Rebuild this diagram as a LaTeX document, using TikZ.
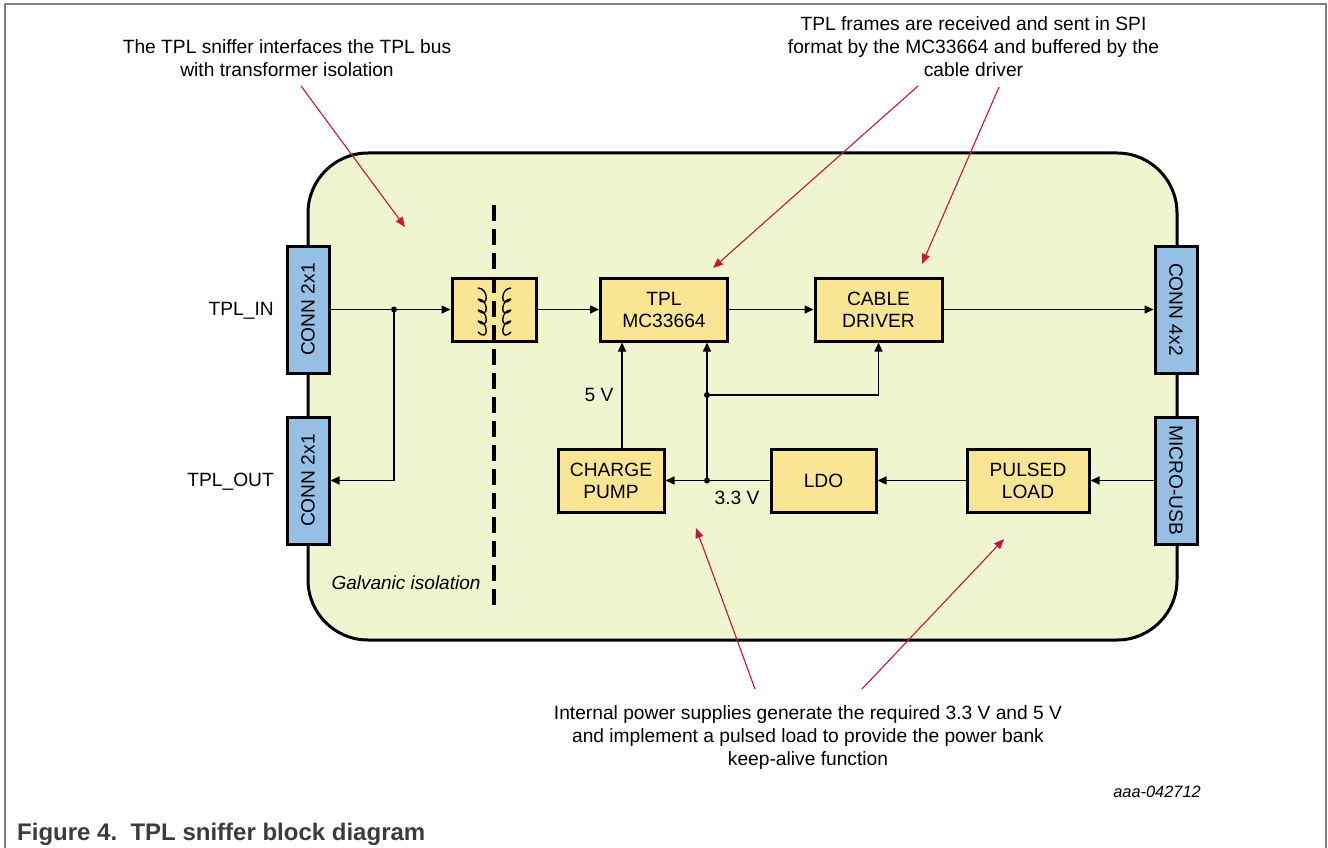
\documentclass[tikz,border=0pt]{standalone}
\usepackage{fontspec}
\setmainfont{Liberation Sans}
\usetikzlibrary{arrows.meta}
\definecolor{panel}{HTML}{EEF5CF}
\definecolor{amber}{HTML}{F9E594}
\definecolor{conn}{HTML}{95BFE4}
\definecolor{note}{HTML}{C8163C}
\definecolor{framegray}{HTML}{7F7F7F}
\definecolor{captiongray}{HTML}{3C3C3C}
\tikzset{
  px/.style={x=1pt,y=-1pt},
  txt/.style={font=\fontsize{19.2}{22}\selectfont,align=center,inner sep=0pt,text=black},
  blockbox/.style={draw=black,line width=3pt,fill=amber,inner sep=0pt,font=\fontsize{19.2}{22}\selectfont,align=center,minimum height=63pt},
  connbox/.style={draw=black,line width=3pt,fill=conn,inner sep=0pt,font=\fontsize{19.2}{22}\selectfont,minimum width=127pt,minimum height=42pt},
  wire/.style={line width=1.5pt,draw=black},
  arrowwire/.style={wire,-{Triangle[length=9pt,width=8pt]}},
  notearrow/.style={line width=1.1pt,draw=note,-{Triangle[length=10pt,width=8pt]}},
  junction/.style={circle,fill=black,inner sep=0pt,minimum size=6pt},
  coil/.style={line width=1.4pt,draw=black}
}
\begin{document}
\begin{tikzpicture}[px]
\useasboundingbox (0,0) rectangle (1328,848);
\fill[white] (0,0) rectangle (1328,848);
\draw[framegray,line width=1.4pt] (5,870) -- (5,4) -- (1326,4) -- (1326,870);
% panel
\draw[black,line width=3pt,fill=panel,rounded corners=60pt] (308,153) rectangle (1177,640);
% isolation line
\coordinate (isoA) at (494,205);
\coordinate (isoB) at (494,605);
% blocks
\node[connbox,rotate=90] (cin) at (308,309.5) {CONN 2x1};
\node[connbox,rotate=90] (cout) at (308,480.5) {CONN 2x1};
\node[connbox,rotate=-90] (cfour) at (1176,309.5) {CONN 4x2};
\node[connbox,rotate=-90] (usb) at (1176,480.5) {MICRO-USB};
\node[blockbox,minimum width=84pt] (xfmr) at (494,309.5) {};
\node[blockbox,minimum width=127pt] (tpl) at (664,309.5) {TPL\\MC33664};
\node[blockbox,minimum width=127pt] (cable) at (878.5,309.5) {CABLE\\DRIVER};
\node[blockbox,minimum width=106pt] (pump) at (611,480.5) {CHARGE\\PUMP};
\node[blockbox,minimum width=105pt] (ldo) at (823.5,480.5) {LDO};
\node[blockbox,minimum width=122pt] (pulsed) at (1028,480.5) {PULSED\\LOAD};
\draw[black,line width=4pt,dash pattern=on 16pt off 8pt] (isoA) -- (isoB);
% transformer coils
\draw[coil] (478,288) foreach \k in {0,1,2,3} { .. controls +(11,0) and +(11,11) .. +(0,11) ++(0,11) };
\draw[coil] (511,288) foreach \k in {0,1,2,3} { .. controls +(-11,0) and +(-11,11) .. +(0,11) ++(0,11) };
% junctions
\node[junction] (j1) at (394,309.5) {};
\node[junction] (j2) at (707,480.5) {};
\node[junction] (j3) at (707,395) {};
% wires
\draw[arrowwire] (cin.south) -- (xfmr.west);
\draw[arrowwire] (j1.center) -- (j1.center |- cout.south) -- (cout.south);
\draw[arrowwire] (xfmr.east) -- (tpl.west);
\draw[arrowwire] (tpl.east) -- (cable.west);
\draw[arrowwire] (cable.east) -- (cfour.south);
\draw[arrowwire] (usb.south) -- (pulsed.east);
\draw[arrowwire] (pulsed.west) -- (ldo.east);
\draw[arrowwire] (ldo.west) -- (pump.east);
\draw[arrowwire] (j2.center) -- (j2.center |- tpl.south);
\draw[arrowwire] (j3.center) -- (cable.south |- j3.center) -- (cable.south);
\draw[arrowwire] (pump.north -| 622,0) -- (tpl.south -| 622,0);
% labels
\node[txt,anchor=east] (lin) at (274,311) {TPL\_IN};
\node[txt,anchor=east] (lout) at (274,482) {TPL\_OUT};
\node[txt] (l5) at (599,395) {5 V};
\node[txt] (l33) at (737,498) {3.3 V};
\node[txt,font=\fontsize{19}{22}\itshape] (galv) at (406,583) {Galvanic isolation};
% annotations
\node[txt,font=\fontsize{19.2}{23}\selectfont] (n1) at (287,58) {The TPL sniffer interfaces the TPL bus\\with transformer isolation};
\node[txt,font=\fontsize{19.2}{23}\selectfont] (n2) at (973.5,47) {TPL frames are received and sent in SPI\\format by the MC33664 and buffered by the\\cable driver};
\node[txt,font=\fontsize{19.2}{23}\selectfont] (n3) at (808,738) {Internal power supplies generate the required 3.3 V and 5 V\\and implement a pulsed load to provide the power bank\\keep-alive function};
\coordinate (a1s) at (301,86); \coordinate (a1e) at (405,227);
\coordinate (a2s) at (918,86); \coordinate (a2e) at (713,268);
\coordinate (a3s) at (999,87); \coordinate (a3e) at (922,264);
\coordinate (a4s) at (755,689); \coordinate (a4e) at (696,528);
\coordinate (a5s) at (862,689); \coordinate (a5e) at (1004,539);
\draw[notearrow] (a1s) -- (a1e);
\draw[notearrow] (a2s) -- (a2e);
\draw[notearrow] (a3s) -- (a3e);
\draw[notearrow] (a4s) -- (a4e);
\draw[notearrow] (a5s) -- (a5e);
\node[txt,font=\fontsize{16.4}{18}\itshape,anchor=east] (code) at (1201,792) {aaa-042712};
\node[txt,font=\fontsize{24}{26}\bfseries,text=captiongray,anchor=base west] (cap) at (17,840) {Figure 4.\ \ TPL sniffer block diagram};
\end{tikzpicture}
\end{document}
